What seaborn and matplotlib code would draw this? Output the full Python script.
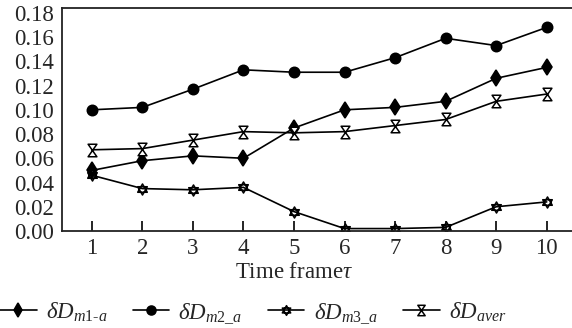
import numpy as np
import pandas as pd
import matplotlib
matplotlib.use("Agg")
import matplotlib.pyplot as plt
from matplotlib.path import Path
from matplotlib.lines import Line2D
import seaborn as sns

frames = [1, 2, 3, 4, 5, 6, 7, 8, 9, 10]
d_m1 = [0.050, 0.058, 0.062, 0.060, 0.085, 0.100, 0.102, 0.107, 0.126, 0.135]
d_m2 = [0.100, 0.102, 0.117, 0.133, 0.131, 0.131, 0.143, 0.159, 0.153, 0.168]
d_m3 = [0.046, 0.035, 0.034, 0.036, 0.016, 0.002, 0.002, 0.003, 0.020, 0.024]
d_aver = [0.067, 0.068, 0.075, 0.082, 0.081, 0.082, 0.087, 0.092, 0.107, 0.113]
labels = [r'$\delta D_{m1\text{-}a}$', r'$\delta D_{m2\_a}$',
          r'$\delta D_{m3\_a}$', r'$\delta D_{aver}$']
yticks = [0.00, 0.02, 0.04, 0.06, 0.08, 0.10, 0.12, 0.14, 0.16, 0.18]

sns.set_style("white")
plt.rcParams['font.family'] = ['Liberation Serif', 'DejaVu Serif']
plt.rcParams['mathtext.fontset'] = 'custom'
plt.rcParams['mathtext.rm'] = 'Liberation Serif'
plt.rcParams['mathtext.it'] = 'Liberation Serif:italic'
plt.rcParams['mathtext.default'] = 'it'

FS = 16.5

# custom markers
hexagram = Path(
    [(0, 1), (0.866, -0.5), (-0.866, -0.5), (0, 1),
     (0, -1), (0.866, 0.5), (-0.866, 0.5), (0, -1)],
    [Path.MOVETO, Path.LINETO, Path.LINETO, Path.CLOSEPOLY,
     Path.MOVETO, Path.LINETO, Path.LINETO, Path.CLOSEPOLY])
hourglass = Path(
    [(-0.7, 1), (0.7, 1), (-0.7, -1), (0.7, -1), (-0.7, 1)],
    [Path.MOVETO, Path.LINETO, Path.LINETO, Path.LINETO, Path.CLOSEPOLY])

fig = plt.figure(figsize=(5.72, 3.28), dpi=100)
ax = fig.add_axes([62/572, 1-231/328, 1-62/572, (231-8)/328])

series = [d_m1, d_m2, d_m3, d_aver]
markers = ['d', 'o', hexagram, hourglass]
msizes = [8.5, 7.5, 8, 9]
faces = ['black', 'black', 'white', 'white']
for vals, mk, ms, fc, lab in zip(series, markers, msizes, faces, labels):
    df = pd.DataFrame({'t': frames, 'v': vals})
    sns.lineplot(data=df, x='t', y='v', ax=ax, color='black', lw=1.2,
                 marker=mk, markersize=ms, markerfacecolor=fc,
                 markeredgecolor='black', markeredgewidth=1.1, label=lab,
                 legend=False)

ax.set_xlim(0.41, 10.5)
ax.set_ylim(0, 0.184)
ax.set_xticks(frames)
ax.set_yticks(yticks)
ax.set_yticklabels([f'{v:.2f}' for v in yticks])
ax.tick_params(axis='x', direction='in', length=7, width=1.2, pad=5,
               labelsize=FS, color='black', bottom=True)
ax.tick_params(axis='y', length=0, pad=6, labelsize=FS)
for s in ['left', 'bottom', 'top']:
    ax.spines[s].set_color('#222222')
    ax.spines[s].set_linewidth(1.3)
ax.spines['right'].set_visible(False)
ax.set_xlabel('Time frame' + r'$\tau$', fontsize=FS)
ax.set_ylabel('')
ax.xaxis.set_label_coords((294-62)/(572-62), -0.14)

lsizes = [7, 6.5, 7, 7.5]
handles = [Line2D([], [], color='black', lw=1.2, marker=mk, markersize=ms,
                  markerfacecolor=fc, markeredgecolor='black', markeredgewidth=1.1)
           for mk, ms, fc in zip(markers, lsizes, faces)]
fig.legend(handles, labels, loc='center left', bbox_to_anchor=(0.0, 1-313/328),
           ncol=4, frameon=False, fontsize=FS, handlelength=1.6,
           handletextpad=0.4, columnspacing=1.1, borderpad=0, borderaxespad=0)

fig.savefig('out.png', dpi=100)
